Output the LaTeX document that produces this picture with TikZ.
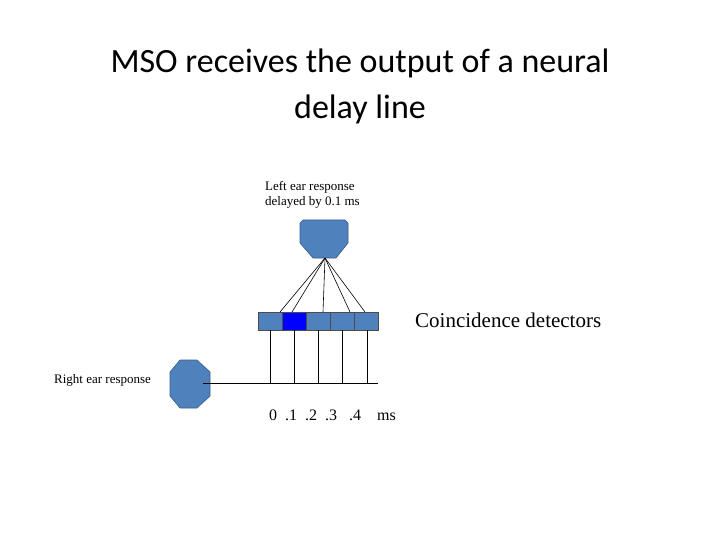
\documentclass[tikz,border=0pt]{standalone}
\usepackage{fontspec}
\setmainfont{Liberation Serif}
\newfontfamily\titlefont{Carlito}
\begin{document}
\begin{tikzpicture}[x=1pt,y=-1pt,
  cell/.style={draw=black!70,line width=0.5pt,fill=cellblue},
  wire/.style={line width=0.6pt},
  lab/.style={inner sep=0pt,font=\fontsize{13}{15}\selectfont}]
\definecolor{cellblue}{HTML}{4F81BD}
\definecolor{darkb}{HTML}{385D8A}
\useasboundingbox (0,0) rectangle (720,540);
\node[font=\titlefont\fontsize{34}{46}\selectfont,align=center] (title) at (360,86) {MSO receives the output of a neural\\delay line};
\node[lab,align=left,anchor=north west] (lt) at (265,181) {Left ear response\\delayed by 0.1 ms};
% top neuron
\draw[fill=cellblue,draw=darkb,line width=0.6pt] (303,220) -- (345,220) -- (348,223) -- (348,243) -- (336,258) -- (313,258) -- (300,243) -- (300,223) -- cycle;
\coordinate (apex) at (325,258);
% cells
\foreach \i/\c in {0/cellblue,1/blue,2/cellblue,3/cellblue,4/cellblue}
  \node[cell,fill=\c,minimum width=24pt,minimum height=18pt,inner sep=0pt,anchor=north west] (c\i) at ({258+24*\i},312) {};
\foreach \i/\x in {0/280,1/292,2/323,3/350,4/365}
  \draw[wire] (apex) -- (\x,312);
% left neuron
\draw[fill=cellblue,draw=darkb,line width=0.6pt] (180,360) -- (197,360) -- (210,372) -- (210,396) -- (197,408) -- (180,408) -- (170,396) -- (170,372) -- cycle;
\coordinate (ax) at (203,383);
\coordinate (lineend) at (378,383);
\draw[wire] (ax) -- (lineend);
\foreach \i/\x in {0/270,1/294,2/318,3/342,4/367}
  \draw[wire] (\x,330) -- (\x,383);
\node[fill=white,inner sep=2pt,font=\fontsize{13}{15}\selectfont,anchor=west] (rt) at (52,380) {Right ear response};
\node[font=\fontsize{21}{24}\selectfont,anchor=west,inner sep=0pt] (cd) at (415,320) {Coincidence detectors};
\node[font=\fontsize{16}{18}\selectfont,anchor=west,inner sep=0pt] (nums) at (269,415) {0\ \ .1\ \ .2\ \ .3\ \ \ .4\ \ \ \ ms};
\end{tikzpicture}
\end{document}
